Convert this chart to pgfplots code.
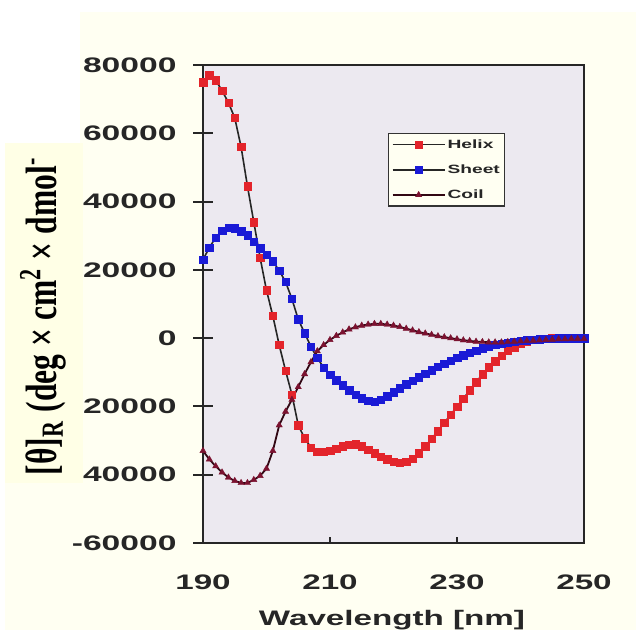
\documentclass[border=0pt]{standalone}
\usepackage{pgfplots}
\pgfplotsset{compat=1.18}
\usepackage{pgfplotstable}
\usepackage{graphicx}
\usepackage{fontspec}
\setmainfont{Liberation Serif}
\setsansfont{Liberation Sans}

\definecolor{cream}{HTML}{FFFFF2}
\definecolor{labelbg}{HTML}{FFFFE6}
\definecolor{plotbg}{HTML}{ECE9F0}
\definecolor{hred}{HTML}{E3242B}
\definecolor{sblue}{HTML}{1A1AD6}
\definecolor{cmaroon}{HTML}{7B1230}

% CD spectra of the reference secondary structures
\pgfplotstableread{
wl  helix  sheet  coil
190  75000  23000 -33000
191  77000  26500 -35500
192  75500  29500 -37500
193  72500  31500 -39300
194  69000  32300 -40800
195  64500  32200 -41800
196  56000  31300 -42400
197  44500  30200 -42400
198  34000  28300 -41500
199  23500  26300 -40300
200  14000  24500 -38200
201   6500  22500 -33000
202  -2000  19800 -25500
203  -9500  16500 -21500
204 -16500  11500 -18000
205 -25500   5500 -14300
206 -29300   1500 -10500
207 -32000  -2500  -7000
208 -33200  -5800  -3800
209 -33300  -8600  -2000
210 -33000 -10700   -500
211 -32400 -12300    700
212 -31700 -13800   1700
213 -31200 -15200   2600
214 -31100 -16500   3200
215 -31600 -17600   3700
216 -32600 -18400   4000
217 -33700 -18600   4200
218 -34700 -18100   4200
219 -35500 -17000   4000
220 -36100 -15800   3700
221 -36400 -14700   3300
222 -36200 -13500   2800
223 -35300 -12400   2300
224 -33700 -11400   1800
225 -31700 -10400   1400
226 -29500  -9400   1000
227 -27200  -8400    600
228 -24800  -7500    300
229 -22400  -6600      0
230 -20100  -5800   -300
231 -17700  -5000   -600
232 -15300  -4300   -800
233 -12900  -3600  -1000
234 -10600  -3000  -1100
235  -8500  -2500  -1200
236  -6700  -2000  -1200
237  -5100  -1600  -1200
238  -3700  -1300  -1100
239  -2600  -1000  -1000
240  -1700   -800   -900
241  -1000   -600   -800
242   -500   -400   -700
243   -200   -300   -600
244   -100   -200   -500
245      0   -100   -400
246      0      0   -300
247      0      0   -300
248      0      0   -200
249      0      0   -200
250      0      0   -200
}\cdspectra

\begin{document}
\begin{tikzpicture}
\useasboundingbox (0pt,0pt) rectangle (636pt,-630pt);
\fill[cream] (0pt,0pt) rectangle (636pt,-630pt);
\fill[white] (0pt,0pt) rectangle (636pt,-12pt);
\fill[white] (0pt,-12pt) rectangle (80pt,-143pt);
\fill[white] (0pt,-143pt) rectangle (5pt,-630pt);

\begin{axis}[
  at={(203pt,-543pt)}, anchor=south west,
  scale only axis, width=381pt, height=478pt,
  xmin=190, xmax=250, ymin=-60000, ymax=80000,
  xtick={190,210,230,250},
  ytick={-60000,-40000,-20000,0,20000,40000,60000,80000},
  scaled y ticks=false, scaled x ticks=false,
  /pgf/number format/assume math mode=true,
  /pgf/number format/set thousands separator={},
  tick pos=left, tick align=center, major tick length=20pt,
  axis line style={line width=2pt, black!85},
  every tick/.style={line width=2pt, black!85},
  xtick style={draw=none},
  axis background/.style={fill=plotbg},
  ticklabel style={font=\fontsize{21pt}{21pt}\selectfont\sffamily\bfseries, text=black!85},
  xticklabel={\scalebox{1.58}[1]{\pgfmathprintnumber{\tick}}},
  yticklabel={\scalebox{1.6}[1]{\pgfmathprintnumber{\tick}}},
  yticklabel style={anchor=east, xshift=-13pt},
  xticklabel style={anchor=north, yshift=-18pt},
  legend style={at={(0.486,0.858)}, anchor=north west, fill=cream,
    draw=black!80, line width=1.2pt, inner xsep=3pt, inner ysep=4pt,
    font=\fontsize{12pt}{12pt}\selectfont\sffamily\bfseries, text=black!85,
    row sep=11pt},
  legend cell align=left,
  legend image code/.code={\draw[mark repeat=2,mark phase=2,#1]
    plot coordinates {(0pt,0pt) (26pt,0pt) (52pt,0pt)};},
]
\addplot[draw=black!85, line width=1.6pt, mark=square*, mark size=3.7pt,
  mark options={draw=hred, fill=hred, line width=0.4pt}]
  table[x=wl, y=helix] {\cdspectra};
\addlegendentry{\scalebox{1.6}[1]{Helix}}
\addplot[draw=black!85, line width=1.6pt, mark=square*, mark size=3.7pt,
  mark options={draw=sblue, fill=sblue, line width=0.4pt}]
  table[x=wl, y=sheet] {\cdspectra};
\addlegendentry{\scalebox{1.6}[1]{Sheet}}
\addplot[draw=black!60!cmaroon, line width=1.8pt, mark=triangle*, mark size=3.6pt,
  mark options={draw=cmaroon, fill=cmaroon, line width=0.4pt}]
  table[x=wl, y=coil] {\cdspectra};
\addlegendentry{\scalebox{1.6}[1]{Coil}}
% short inward ticks on the wavelength axis
\foreach \w in {210,230} {
  \edef\tmp{\noexpand\draw[line width=1.5pt, black!85] (axis cs:\w,-60000) -- ++(0pt,6pt);}
  \tmp
}
\end{axis}

% axis title on its own panel
\fill[labelbg] (5pt,-143pt) rectangle (83pt,-483pt);
\node[rotate=90, inner sep=0pt] at (43pt,-316pt)
  {\resizebox*{318pt}{46pt}{\bfseries [θ]\textsubscript{R} (deg × cm\textsuperscript{2} × dmol\textsuperscript{-}}};
\node[anchor=base, inner sep=0pt, text=black!85,
  font=\fontsize{21pt}{21pt}\selectfont\sffamily\bfseries] at (392pt,-625pt)
  {\scalebox{1.58}[1]{Wavelength [nm]}};
\end{tikzpicture}
\end{document}
